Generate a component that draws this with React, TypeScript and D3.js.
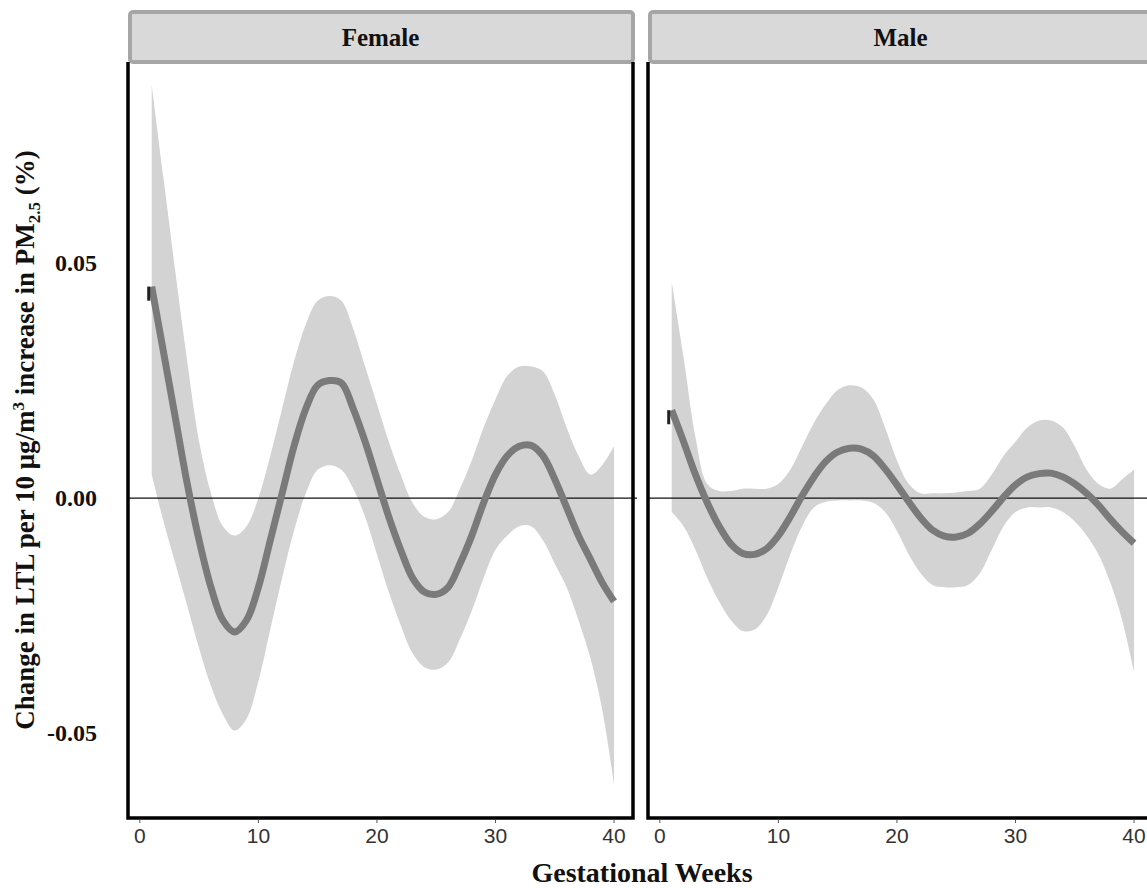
import * as d3 from "d3";

// gestational week of each estimate
const WEEKS = [
  1, 2, 3, 4, 5, 6, 7, 8, 9, 10, 11, 12, 13, 14, 15, 16, 17, 18, 19, 20,
  21, 22, 23, 24, 25, 26, 27, 28, 29, 30, 31, 32, 33, 34, 35, 36, 37, 38, 39, 40,
];

const FEMALE_EST = [
  0.045, 0.031, 0.017, 0.003, -0.009, -0.019, -0.026, -0.0285, -0.026, -0.019,
  -0.009, 0.001, 0.011, 0.019, 0.024, 0.025, 0.0245, 0.019, 0.012, 0.004,
  -0.004, -0.011, -0.017, -0.02, -0.0205, -0.019, -0.014, -0.008, -0.001, 0.005,
  0.009, 0.011, 0.0112, 0.009, 0.004, -0.002, -0.008, -0.013, -0.018, -0.022,
];
const FEMALE_LO = [
  0.005, -0.005, -0.014, -0.023, -0.032, -0.04, -0.046, -0.0495, -0.047, -0.039,
  -0.028, -0.017, -0.007, 0.001, 0.006, 0.007, 0.006, 0.002, -0.004, -0.012,
  -0.02, -0.027, -0.033, -0.036, -0.0365, -0.035, -0.03, -0.024, -0.017, -0.011,
  -0.008, -0.006, -0.006, -0.009, -0.014, -0.019, -0.026, -0.034, -0.045, -0.061,
];
const FEMALE_HI = [
  0.088, 0.068, 0.048, 0.029, 0.012, 0.001, -0.006, -0.008, -0.006, 0.0,
  0.009, 0.019, 0.029, 0.037, 0.042, 0.043, 0.042, 0.036, 0.028, 0.02,
  0.012, 0.005, -0.001, -0.004, -0.0045, -0.003, 0.002, 0.008, 0.015, 0.021,
  0.026, 0.028, 0.028, 0.027, 0.022, 0.015, 0.009, 0.005, 0.007, 0.011,
];

const MALE_EST = [
  0.0187, 0.012, 0.005, -0.001, -0.006, -0.0098, -0.0118, -0.012, -0.0108, -0.008,
  -0.004, 0.0005, 0.0045, 0.0078, 0.0098, 0.0106, 0.0104, 0.009, 0.0062, 0.0028,
  -0.0008, -0.0042, -0.0068, -0.0081, -0.0083, -0.0075, -0.0055, -0.0028, 0.0002, 0.0028,
  0.0045, 0.0052, 0.0053, 0.0045, 0.003, 0.001, -0.0015, -0.0045, -0.0072, -0.0096,
];
const MALE_LO = [
  -0.003, -0.006, -0.011, -0.017, -0.022, -0.026, -0.0283, -0.028, -0.025, -0.019,
  -0.012, -0.006, -0.002, -0.0008, -0.0005, -0.0005, -0.0005, -0.001, -0.003, -0.007,
  -0.012, -0.016, -0.0185, -0.019, -0.019, -0.0185, -0.016, -0.011, -0.006, -0.003,
  -0.002, -0.002, -0.002, -0.003, -0.005, -0.008, -0.012, -0.018, -0.026, -0.037,
];
const MALE_HI = [
  0.046, 0.03, 0.013, 0.003, 0.0015, 0.0015, 0.002, 0.002, 0.002, 0.003,
  0.006, 0.011, 0.016, 0.02, 0.023, 0.024, 0.0235, 0.021, 0.015, 0.008,
  0.003, 0.001, 0.001, 0.001, 0.0012, 0.0015, 0.002, 0.005, 0.009, 0.012,
  0.015, 0.0165, 0.0165, 0.015, 0.011, 0.006, 0.003, 0.002, 0.004, 0.006,
];

const PANEL_NAMES = ["Female", "Male"];
const X_TICKS = [0, 10, 20, 30, 40];
const Y_TICKS = [-0.05, 0, 0.05];
const Y_TICK_LABELS = ["-0.05", "0.00", "0.05"];

const WIDTH = 1147;
const HEIGHT = 888;
const PANEL_W = 505;
const PANEL_TOP = 62;
const PANEL_BOTTOM = 818;
const PANEL_LEFT = [128, 648];
const STRIP_TOP = 10;

const SERIF = "'Liberation Serif', 'Times New Roman', serif";
const SANS = "'Liberation Sans', Arial, sans-serif";

type Row = { week: number; est: number; lo: number; hi: number };

const buildRows = (est: number[], lo: number[], hi: number[]): Row[] =>
  WEEKS.map((w, i) => ({ week: w, est: est[i], lo: lo[i], hi: hi[i] }));

const PANEL_DATA = [
  buildRows(FEMALE_EST, FEMALE_LO, FEMALE_HI),
  buildRows(MALE_EST, MALE_LO, MALE_HI),
];

const App = () => {
  const xScale = d3.scaleLinear().domain([-1.0, 41.6]).range([0, PANEL_W]);
  const yScale = d3
    .scaleLinear()
    .domain([-0.0681, 0.0928])
    .range([PANEL_BOTTOM, PANEL_TOP]);

  const area = d3
    .area<Row>()
    .x((d) => xScale(d.week))
    .y0((d) => yScale(d.lo))
    .y1((d) => yScale(d.hi))
    .curve(d3.curveCatmullRom.alpha(0.5));

  const line = d3
    .line<Row>()
    .x((d) => xScale(d.week))
    .y((d) => yScale(d.est))
    .curve(d3.curveCatmullRom.alpha(0.5));

  const panelH = PANEL_BOTTOM - PANEL_TOP;

  return (
    <svg
      width={WIDTH}
      height={HEIGHT}
      style={{ position: "absolute", left: 0, top: 0, background: "#fff" }}
    >
      {PANEL_NAMES.map((name, p) => {
        const rows = PANEL_DATA[p];
        const left = PANEL_LEFT[p];
        const first = rows[0];
        return (
          <g key={name} transform={`translate(${left},0)`}>
            {/* strip */}
            <rect
              x={2}
              y={STRIP_TOP + 2}
              width={PANEL_W - 2}
              height={PANEL_TOP - STRIP_TOP - 2}
              rx={3}
              fill="#d9d9d9"
              stroke="#a6a6a6"
              strokeWidth={4}
            />
            <text
              x={PANEL_W / 2}
              y={46}
              textAnchor="middle"
              fontFamily={SERIF}
              fontWeight="bold"
              fontSize={25}
              fill="#111"
            >
              {name}
            </text>

            {/* confidence band and estimate */}
            <path d={area(rows) ?? ""} fill="#d3d3d3" />
            <line
              x1={0}
              x2={PANEL_W + 4}
              y1={yScale(0)}
              y2={yScale(0)}
              stroke="#111"
              strokeWidth={1.3}
            />
            <path
              d={line(rows) ?? ""}
              fill="none"
              stroke="#7a7a7a"
              strokeWidth={7}
            />
            <line
              x1={xScale(first.week) - 3}
              x2={xScale(first.week) - 3}
              y1={yScale(first.est)}
              y2={yScale(first.est - 0.003)}
              stroke="#222"
              strokeWidth={3}
            />

            {/* panel border: left, bottom, right */}
            <path
              d={`M0,${PANEL_TOP} V${PANEL_TOP + panelH} H${PANEL_W} V${PANEL_TOP}`}
              fill="none"
              stroke="#000"
              strokeWidth={3.5}
            />

            {/* x axis */}
            {X_TICKS.map((t) => (
              <g key={t} transform={`translate(${xScale(t)},0)`}>
                <line
                  y1={PANEL_BOTTOM + 2}
                  y2={PANEL_BOTTOM + 5}
                  stroke="#555"
                  strokeWidth={1}
                />
                <text
                  y={PANEL_BOTTOM + 25}
                  textAnchor="middle"
                  fontFamily={SANS}
                  fontSize={21}
                  fill="#333"
                >
                  {t}
                </text>
              </g>
            ))}
          </g>
        );
      })}

      {/* y axis labels */}
      {Y_TICKS.map((t, i) => (
        <text
          key={t}
          x={97}
          y={yScale(t) + 8}
          textAnchor="end"
          fontFamily={SERIF}
          fontWeight="bold"
          fontSize={24}
          fill="#111"
        >
          {Y_TICK_LABELS[i]}
        </text>
      ))}

      {/* axis titles */}
      <text
        x={642}
        y={882}
        textAnchor="middle"
        fontFamily={SERIF}
        fontWeight="bold"
        fontSize={28}
        fill="#111"
      >
        Gestational Weeks
      </text>
      <text
        transform={`translate(34,${(PANEL_TOP + PANEL_BOTTOM) / 2}) rotate(-90)`}
        textAnchor="middle"
        fontFamily={SERIF}
        fontWeight="bold"
        fontSize={27}
        fill="#111"
      >
        Change in LTL per 10 μg/m
        <tspan fontSize={17} dy={-10}>3</tspan>
        <tspan dy={10}> increase in PM</tspan>
        <tspan fontSize={17} dy={6}>2.5</tspan>
        <tspan dy={-6}> (%)</tspan>
      </text>
    </svg>
  );
};

export default App;
